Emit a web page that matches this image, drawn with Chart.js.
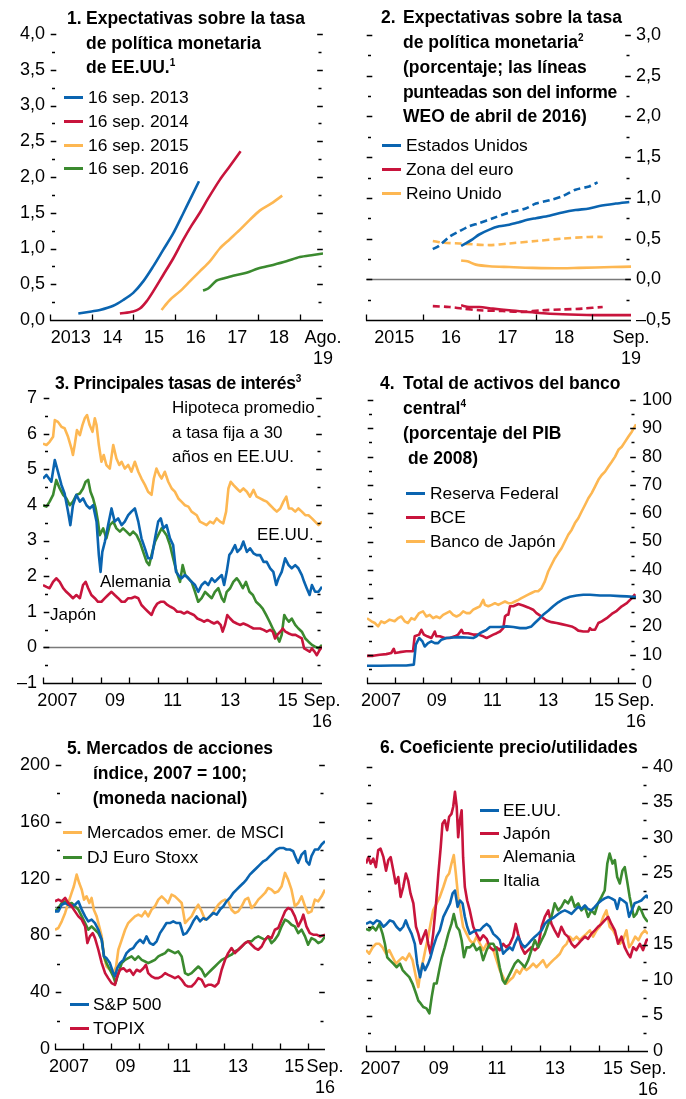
<!DOCTYPE html>
<html lang="es">
<head>
<meta charset="utf-8">
<title>Expectativas y mercados</title>
<script src="https://cdn.jsdelivr.net/npm/chart.js@4.4.1/dist/chart.umd.min.js"></script>
<style>
html,body{margin:0;padding:0;background:#fff;}
#page{position:relative;width:686px;height:1099px;overflow:hidden;font-family:"Liberation Sans",Arial,Helvetica,sans-serif;color:#000;}
#page canvas{position:absolute;}
.tx{position:absolute;white-space:nowrap;font-size:17px;line-height:24px;}
.b{font-weight:bold;font-size:17.5px;}
.c{text-align:center;width:320px;}
.lg{position:absolute;white-space:nowrap;font-size:17.4px;line-height:24px;display:flex;align-items:center;}
.sw{display:inline-block;width:19px;height:3px;}
sup{font-size:10px;line-height:0;vertical-align:7px;}
</style>
</head>
<body>
<div id="page"></div>
<script>
const FONT = '"Liberation Sans", Arial, Helvetica, sans-serif';
const BLUE = '#0a64b0', RED = '#c8143c', ORANGE = '#fdb752', GREEN = '#3b8a2f';

// ---------- Panel 1 ----------
const p1Names = ['16 sep. 2013', '16 sep. 2014', '16 sep. 2015', '16 sep. 2016'];
const p1Sep2013 = [[2013.68,0.09],[2014.00,0.12],[2014.20,0.14],[2014.52,0.20],[2014.76,0.28],[2015.00,0.38],[2015.24,0.54],[2015.48,0.75],[2015.72,0.98],[2015.96,1.21],[2016.20,1.49],[2016.36,1.68],[2016.58,1.94]];
const p1Sep2014 = [[2014.68,0.09],[2015.00,0.12],[2015.16,0.16],[2015.32,0.26],[2015.48,0.40],[2015.72,0.63],[2015.96,0.86],[2016.20,1.12],[2016.40,1.32],[2016.60,1.50],[2016.80,1.70],[2017.08,1.96],[2017.32,2.15],[2017.58,2.36]];
const p1Sep2015 = [[2015.68,0.14],[2015.88,0.28],[2016.12,0.40],[2016.36,0.54],[2016.60,0.68],[2016.84,0.82],[2017.08,1.00],[2017.32,1.13],[2017.56,1.26],[2017.80,1.40],[2018.04,1.53],[2018.32,1.63],[2018.58,1.74]];
const p1Sep2016 = [[2016.68,0.41],[2016.80,0.44],[2017.00,0.55],[2017.16,0.58],[2017.40,0.62],[2017.72,0.66],[2018.00,0.72],[2018.36,0.77],[2018.68,0.82],[2019.00,0.88],[2019.32,0.91],[2019.56,0.93]];
const p1XTickMarks = [2013, 2014, 2015, 2016, 2017, 2018, 2019];
const p1XLabelPos = [2013.5, 2014.5, 2015.5, 2016.5, 2017.5, 2018.5, 2019.56];
const p1XLabels = ['2013', '14', '15', '16', '17', '18', ['Ago.', '19']];
const p1YTicks = [0, 0.5, 1, 1.5, 2, 2.5, 3, 3.5, 4];

// ---------- Panel 2 ----------
const p2Names = ['Estados Unidos', 'Zona del euro', 'Reino Unido'];
const p2US = [[2016.68,0.41],[2016.76,0.44],[2016.88,0.49],[2017.00,0.55],[2017.18,0.61],[2017.35,0.65],[2017.53,0.67],[2017.70,0.70],[2017.85,0.73],[2018.00,0.75],[2018.24,0.78],[2018.47,0.82],[2018.70,0.85],[2018.94,0.87],[2019.12,0.90],[2019.41,0.93],[2019.65,0.95]];
const p2USWeo = [[2016.18,0.37],[2016.29,0.41],[2016.47,0.52],[2016.65,0.59],[2016.82,0.65],[2017.00,0.69],[2017.24,0.75],[2017.53,0.82],[2017.82,0.87],[2018.00,0.93],[2018.24,0.97],[2018.47,1.02],[2018.70,1.10],[2018.94,1.14],[2019.09,1.19]];
const p2Euro = [[2016.68,-0.32],[2016.82,-0.34],[2017.00,-0.34],[2017.24,-0.36],[2017.53,-0.38],[2018.00,-0.41],[2018.47,-0.43],[2019.06,-0.44],[2019.68,-0.44]];
const p2EuroWeo = [[2016.18,-0.33],[2016.47,-0.34],[2016.71,-0.36],[2017.00,-0.38],[2017.41,-0.39],[2017.76,-0.40],[2018.12,-0.38],[2018.47,-0.37],[2018.82,-0.36],[2019.18,-0.34]];
const p2UK = [[2016.68,0.23],[2016.79,0.22],[2016.94,0.18],[2017.18,0.16],[2017.53,0.15],[2017.94,0.14],[2018.47,0.135],[2018.76,0.14],[2019.35,0.15],[2019.68,0.155]];
const p2UKWeo = [[2016.18,0.47],[2016.35,0.45],[2016.65,0.44],[2017.18,0.42],[2017.53,0.44],[2018.00,0.47],[2018.47,0.50],[2018.94,0.52],[2019.18,0.52]];
const p2XTickMarks = [2015, 2016, 2017, 2018, 2019];
const p2XLabelPos = [2015.5, 2016.5, 2017.5, 2018.5, 2019.68];
const p2XLabels = ['2015', '16', '17', '18', ['Sep.', '19']];
const p2YTicks = [-0.5, 0, 0.5, 1, 1.5, 2, 2.5, 3];

// ---------- Panels 3-6 shared x axis ----------
const yearMarks = [2007, 2008, 2009, 2010, 2011, 2012, 2013, 2014, 2015, 2016];
const yearLabels = ['2007', '09', '11', '13', '15', ['Sep.', '16']];

// ---------- Panel 3 ----------
const p3Mortgage = [[2007.00,5.72],[2007.12,5.68],[2007.23,5.77],[2007.35,5.91],[2007.41,6.38],[2007.52,6.33],[2007.64,6.19],[2007.75,6.15],[2007.87,5.91],[2007.99,5.58],[2008.04,5.40],[2008.10,5.68],[2008.18,6.10],[2008.28,5.96],[2008.37,6.24],[2008.45,6.43],[2008.53,6.52],[2008.62,6.24],[2008.72,6.05],[2008.80,6.43],[2008.86,6.24],[2008.94,5.68],[2009.03,5.21],[2009.11,5.40],[2009.20,5.12],[2009.32,5.02],[2009.44,5.68],[2009.55,5.30],[2009.65,5.12],[2009.73,5.21],[2009.84,5.02],[2009.96,5.12],[2010.07,4.93],[2010.19,5.21],[2010.31,4.93],[2010.42,4.74],[2010.54,4.56],[2010.65,4.37],[2010.77,4.28],[2010.85,4.74],[2010.94,5.02],[2011.04,4.84],[2011.12,4.74],[2011.23,4.93],[2011.35,4.65],[2011.47,4.46],[2011.58,4.37],[2011.70,4.18],[2011.81,4.09],[2011.93,3.99],[2012.05,3.95],[2012.16,3.81],[2012.34,3.71],[2012.45,3.53],[2012.57,3.48],[2012.68,3.43],[2012.80,3.53],[2012.92,3.48],[2013.03,3.62],[2013.15,3.53],[2013.26,3.48],[2013.36,3.81],[2013.44,4.46],[2013.52,4.65],[2013.61,4.56],[2013.73,4.46],[2013.84,4.37],[2013.96,4.46],[2014.08,4.37],[2014.19,4.23],[2014.31,4.42],[2014.42,4.23],[2014.54,4.18],[2014.66,4.13],[2014.77,4.09],[2014.89,3.99],[2015.00,3.90],[2015.12,3.81],[2015.24,3.90],[2015.35,4.09],[2015.45,4.23],[2015.54,3.90],[2015.64,3.90],[2015.76,3.81],[2015.87,3.90],[2015.99,3.81],[2016.11,3.71],[2016.22,3.71],[2016.34,3.62],[2016.45,3.53],[2016.57,3.43],[2016.69,3.53]];
const p3US = [[2007.00,4.74],[2007.12,4.84],[2007.29,4.65],[2007.41,5.26],[2007.52,4.93],[2007.64,4.56],[2007.75,4.32],[2007.87,3.81],[2007.95,3.43],[2008.04,3.99],[2008.16,4.28],[2008.28,4.09],[2008.39,4.18],[2008.51,3.99],[2008.62,3.90],[2008.74,3.99],[2008.86,3.53],[2008.94,2.59],[2009.00,2.12],[2009.06,2.68],[2009.15,2.97],[2009.26,3.43],[2009.38,3.90],[2009.49,3.53],[2009.61,3.62],[2009.73,3.43],[2009.84,3.53],[2009.96,3.71],[2010.07,3.81],[2010.19,3.90],[2010.31,3.53],[2010.42,3.06],[2010.54,2.78],[2010.65,2.50],[2010.77,2.50],[2010.89,3.06],[2011.00,3.53],[2011.09,3.62],[2011.18,3.34],[2011.29,3.43],[2011.41,3.06],[2011.52,2.87],[2011.62,2.12],[2011.70,2.03],[2011.81,1.94],[2011.93,2.03],[2012.05,1.94],[2012.16,1.84],[2012.28,1.75],[2012.39,1.56],[2012.51,1.75],[2012.63,1.84],[2012.74,1.75],[2012.86,1.94],[2012.97,1.84],[2013.09,1.94],[2013.21,2.03],[2013.29,1.75],[2013.38,2.12],[2013.47,2.59],[2013.55,2.68],[2013.67,2.87],[2013.75,2.68],[2013.87,2.78],[2013.96,2.97],[2014.08,2.68],[2014.19,2.78],[2014.31,2.64],[2014.42,2.59],[2014.54,2.59],[2014.66,2.40],[2014.77,2.40],[2014.89,2.22],[2015.00,2.12],[2015.10,1.75],[2015.18,1.94],[2015.29,2.12],[2015.41,2.50],[2015.53,2.31],[2015.64,2.22],[2015.76,2.31],[2015.87,2.22],[2015.99,2.03],[2016.07,1.84],[2016.16,1.66],[2016.26,1.47],[2016.34,1.75],[2016.45,1.56],[2016.57,1.56],[2016.69,1.70]];
const p3Germany = [[2007.00,3.99],[2007.12,3.95],[2007.23,4.09],[2007.35,4.28],[2007.46,4.70],[2007.58,4.46],[2007.70,4.28],[2007.81,4.18],[2007.93,3.99],[2008.04,4.09],[2008.16,4.28],[2008.28,4.32],[2008.39,4.46],[2008.48,4.65],[2008.57,4.70],[2008.65,4.37],[2008.74,4.18],[2008.83,3.90],[2008.91,3.53],[2008.97,3.15],[2009.09,3.34],[2009.20,3.06],[2009.32,3.43],[2009.44,3.53],[2009.55,3.34],[2009.67,3.25],[2009.78,3.34],[2009.90,3.25],[2010.02,3.15],[2010.13,3.25],[2010.25,3.15],[2010.36,2.97],[2010.48,2.68],[2010.60,2.40],[2010.69,2.31],[2010.77,2.59],[2010.89,2.97],[2011.00,3.15],[2011.12,3.34],[2011.20,3.25],[2011.29,3.15],[2011.41,2.87],[2011.52,2.50],[2011.64,2.12],[2011.76,1.84],[2011.85,2.31],[2011.94,2.03],[2012.05,1.94],[2012.16,1.84],[2012.28,1.56],[2012.39,1.28],[2012.51,1.38],[2012.63,1.56],[2012.74,1.47],[2012.86,1.38],[2012.97,1.56],[2013.09,1.66],[2013.21,1.38],[2013.29,1.28],[2013.38,1.56],[2013.50,1.66],[2013.61,1.84],[2013.73,1.94],[2013.82,1.84],[2013.94,1.66],[2014.05,1.84],[2014.17,1.56],[2014.29,1.47],[2014.40,1.28],[2014.52,1.19],[2014.63,1.09],[2014.75,0.91],[2014.87,0.72],[2014.98,0.53],[2015.10,0.35],[2015.21,0.16],[2015.29,0.35],[2015.38,0.91],[2015.45,0.81],[2015.54,0.72],[2015.64,0.81],[2015.76,0.63],[2015.87,0.53],[2015.99,0.44],[2016.11,0.25],[2016.22,0.16],[2016.34,0.07],[2016.45,0.02],[2016.57,-0.03],[2016.69,0.07]];
const p3Japan = [[2007.00,1.75],[2007.12,1.70],[2007.23,1.66],[2007.35,1.84],[2007.46,1.94],[2007.58,1.84],[2007.70,1.66],[2007.81,1.56],[2007.93,1.47],[2008.04,1.38],[2008.16,1.47],[2008.28,1.38],[2008.39,1.75],[2008.48,1.84],[2008.57,1.66],[2008.68,1.47],[2008.80,1.38],[2008.91,1.28],[2009.03,1.28],[2009.15,1.38],[2009.26,1.47],[2009.38,1.56],[2009.49,1.47],[2009.61,1.38],[2009.73,1.28],[2009.84,1.28],[2009.96,1.38],[2010.07,1.38],[2010.19,1.42],[2010.31,1.38],[2010.42,1.19],[2010.54,1.09],[2010.65,1.00],[2010.77,0.91],[2010.86,1.09],[2010.97,1.23],[2011.08,1.28],[2011.20,1.28],[2011.32,1.19],[2011.43,1.14],[2011.55,1.09],[2011.66,1.00],[2011.78,1.00],[2011.90,0.95],[2012.01,1.00],[2012.13,0.95],[2012.24,0.91],[2012.36,0.81],[2012.48,0.77],[2012.59,0.72],[2012.71,0.77],[2012.82,0.72],[2012.94,0.67],[2013.06,0.72],[2013.17,0.63],[2013.24,0.44],[2013.32,0.63],[2013.40,0.91],[2013.50,0.81],[2013.61,0.72],[2013.73,0.67],[2013.84,0.63],[2013.96,0.67],[2014.08,0.63],[2014.19,0.58],[2014.31,0.53],[2014.42,0.53],[2014.54,0.53],[2014.66,0.49],[2014.77,0.44],[2014.89,0.49],[2014.98,0.44],[2015.06,0.25],[2015.14,0.35],[2015.24,0.44],[2015.33,0.53],[2015.42,0.44],[2015.54,0.39],[2015.65,0.35],[2015.77,0.35],[2015.88,0.30],[2015.99,0.25],[2016.07,-0.03],[2016.16,-0.07],[2016.26,-0.12],[2016.34,-0.03],[2016.43,-0.12],[2016.51,-0.22],[2016.61,-0.07],[2016.69,0.02]];
const p3YTicks = [-1, 0, 1, 2, 3, 4, 5, 6, 7];

// ---------- Panel 4 ----------
const p4Names = ['Reserva Federal', 'BCE', 'Banco de Japón'];
const p4Fed = [[2007.00,6.1],[2007.46,6.1],[2007.93,6.2],[2008.41,6.2],[2008.68,6.5],[2008.75,13.5],[2008.87,15.9],[2008.99,14.7],[2009.07,12.9],[2009.19,14.1],[2009.31,14.7],[2009.43,14.1],[2009.55,14.1],[2009.67,15.3],[2009.85,15.9],[2010.09,16.1],[2010.33,16.2],[2010.57,16.1],[2010.81,15.9],[2010.93,16.5],[2011.05,17.6],[2011.17,18.2],[2011.29,18.8],[2011.41,19.8],[2011.77,19.8],[2012.01,20.0],[2012.25,19.8],[2012.49,19.4],[2012.72,19.4],[2012.90,20.0],[2013.02,21.2],[2013.20,22.9],[2013.32,24.1],[2013.50,25.5],[2013.68,27.1],[2013.86,28.5],[2014.04,29.6],[2014.28,30.5],[2014.52,30.9],[2014.76,31.2],[2015.00,31.2],[2015.36,30.9],[2015.72,30.9],[2016.08,30.7],[2016.32,30.6],[2016.65,30.4]];
const p4ECB = [[2007.00,9.6],[2007.22,9.6],[2007.46,10.0],[2007.69,10.2],[2007.87,10.6],[2007.96,12.1],[2008.01,10.6],[2008.17,10.9],[2008.41,11.2],[2008.65,11.2],[2008.71,16.5],[2008.87,17.1],[2008.95,18.8],[2009.04,17.1],[2009.16,16.5],[2009.31,15.9],[2009.43,18.2],[2009.49,16.5],[2009.61,16.5],[2009.79,15.9],[2009.97,15.9],[2010.15,16.5],[2010.27,17.1],[2010.39,18.8],[2010.45,17.6],[2010.63,17.6],[2010.81,17.1],[2010.99,17.1],[2011.17,16.5],[2011.29,15.9],[2011.41,16.5],[2011.53,17.1],[2011.65,17.6],[2011.77,18.2],[2011.89,19.4],[2011.95,23.5],[2012.01,24.1],[2012.07,24.1],[2012.13,27.1],[2012.25,27.1],[2012.43,27.9],[2012.60,27.4],[2012.78,26.7],[2012.96,25.9],[2013.08,24.7],[2013.20,23.9],[2013.32,22.9],[2013.44,22.1],[2013.62,21.5],[2013.80,21.2],[2013.98,20.8],[2014.16,20.4],[2014.34,20.0],[2014.46,19.4],[2014.58,18.5],[2014.76,18.2],[2014.94,18.2],[2015.00,19.4],[2015.06,18.8],[2015.18,18.8],[2015.30,21.2],[2015.42,21.8],[2015.60,22.9],[2015.78,24.4],[2015.96,25.5],[2016.14,27.1],[2016.32,28.2],[2016.50,30.0],[2016.62,31.4]];
const p4BoJ = [[2007.00,22.9],[2007.16,21.8],[2007.28,21.2],[2007.40,20.0],[2007.51,21.8],[2007.63,21.2],[2007.81,22.4],[2007.99,21.8],[2008.11,22.9],[2008.23,23.5],[2008.35,21.8],[2008.47,21.2],[2008.59,22.9],[2008.71,22.4],[2008.87,24.7],[2009.01,25.3],[2009.13,23.5],[2009.25,24.1],[2009.37,22.9],[2009.49,23.5],[2009.61,22.9],[2009.73,24.1],[2009.85,24.7],[2009.97,25.3],[2010.09,24.1],[2010.21,23.5],[2010.33,24.1],[2010.45,25.3],[2010.57,24.7],[2010.69,24.7],[2010.81,25.9],[2010.93,26.5],[2011.05,27.1],[2011.17,29.4],[2011.23,27.6],[2011.35,27.1],[2011.47,27.6],[2011.59,28.2],[2011.71,27.6],[2011.83,28.2],[2011.95,28.8],[2012.07,28.2],[2012.19,28.2],[2012.31,28.8],[2012.43,29.4],[2012.54,30.0],[2012.66,30.6],[2012.78,31.2],[2012.90,31.8],[2013.02,32.4],[2013.14,32.4],[2013.26,33.5],[2013.38,35.9],[2013.50,39.4],[2013.62,41.8],[2013.74,44.1],[2013.86,45.9],[2013.98,47.6],[2014.10,50.0],[2014.22,52.4],[2014.34,54.1],[2014.46,56.5],[2014.58,58.2],[2014.70,60.6],[2014.82,62.9],[2014.94,65.3],[2015.06,67.1],[2015.18,69.4],[2015.30,71.8],[2015.42,73.5],[2015.54,74.7],[2015.66,76.5],[2015.78,78.2],[2015.90,80.0],[2016.02,82.4],[2016.14,83.5],[2016.26,85.3],[2016.38,87.1],[2016.50,88.8],[2016.65,91.4]];
const p4YTicks = [0, 10, 20, 30, 40, 50, 60, 70, 80, 90, 100];

// ---------- Panel 5 ----------
const p5Names = ['Mercados emer. de MSCI', 'DJ Euro Stoxx', 'S&P 500', 'TOPIX'];
const p5MSCI = [[2007.00,84.0],[2007.12,85.2],[2007.24,89.9],[2007.36,95.8],[2007.47,102.8],[2007.59,109.9],[2007.67,114.6],[2007.77,122.8],[2007.86,116.9],[2007.95,112.2],[2008.03,105.2],[2008.12,107.5],[2008.22,102.8],[2008.30,106.4],[2008.38,98.1],[2008.48,93.4],[2008.57,86.4],[2008.66,79.3],[2008.74,65.2],[2008.83,58.1],[2008.95,55.8],[2009.07,53.4],[2009.17,58.1],[2009.25,69.9],[2009.37,76.9],[2009.49,84.0],[2009.60,88.7],[2009.72,91.1],[2009.84,93.4],[2009.96,94.6],[2010.08,93.4],[2010.20,96.9],[2010.31,93.4],[2010.43,98.1],[2010.55,100.5],[2010.67,105.2],[2010.79,107.5],[2010.91,105.2],[2011.02,102.8],[2011.14,108.7],[2011.26,107.5],[2011.38,105.2],[2011.50,102.8],[2011.62,88.7],[2011.73,91.1],[2011.85,93.4],[2011.97,98.1],[2012.09,101.6],[2012.21,96.9],[2012.33,91.1],[2012.44,92.2],[2012.56,94.6],[2012.68,98.1],[2012.80,101.6],[2012.92,104.0],[2013.04,105.2],[2013.15,104.0],[2013.27,98.1],[2013.39,95.8],[2013.51,96.9],[2013.63,100.5],[2013.75,105.2],[2013.86,106.4],[2013.98,99.3],[2014.10,101.6],[2014.22,105.2],[2014.34,107.5],[2014.46,109.9],[2014.57,113.4],[2014.69,112.2],[2014.81,109.9],[2014.93,111.1],[2015.05,114.6],[2015.17,124.0],[2015.28,119.3],[2015.40,112.2],[2015.52,100.5],[2015.64,102.8],[2015.76,107.5],[2015.88,100.5],[2015.99,95.8],[2016.11,96.9],[2016.23,105.2],[2016.35,104.0],[2016.47,107.5],[2016.59,112.2]];
const p5Stoxx = [[2007.00,96.9],[2007.12,99.3],[2007.24,102.8],[2007.36,104.0],[2007.47,101.6],[2007.59,102.8],[2007.71,100.5],[2007.83,98.1],[2007.95,93.4],[2008.07,88.7],[2008.18,84.0],[2008.30,86.4],[2008.42,84.0],[2008.54,81.6],[2008.66,76.9],[2008.74,65.2],[2008.83,60.5],[2008.95,55.8],[2009.07,51.1],[2009.15,46.4],[2009.25,53.4],[2009.37,60.5],[2009.49,62.8],[2009.60,64.0],[2009.72,65.2],[2009.84,62.8],[2009.96,65.2],[2010.08,62.8],[2010.20,61.6],[2010.31,60.5],[2010.43,61.6],[2010.55,62.8],[2010.67,65.2],[2010.79,66.4],[2010.91,67.5],[2011.02,69.9],[2011.14,68.7],[2011.26,67.5],[2011.38,68.7],[2011.50,65.2],[2011.62,53.4],[2011.73,52.2],[2011.85,53.4],[2011.97,55.8],[2012.09,58.1],[2012.21,55.8],[2012.33,51.1],[2012.44,53.4],[2012.56,55.8],[2012.68,58.1],[2012.80,60.5],[2012.92,62.8],[2013.04,64.0],[2013.15,65.2],[2013.27,66.4],[2013.39,68.7],[2013.51,69.9],[2013.63,72.2],[2013.75,74.6],[2013.86,75.8],[2013.98,75.8],[2014.10,78.1],[2014.22,79.3],[2014.34,78.1],[2014.46,76.9],[2014.57,79.3],[2014.69,74.6],[2014.81,76.9],[2014.93,80.5],[2015.05,86.4],[2015.17,91.1],[2015.28,89.9],[2015.40,87.5],[2015.52,86.4],[2015.64,81.6],[2015.76,84.0],[2015.88,79.3],[2015.99,73.4],[2016.11,78.1],[2016.23,76.9],[2016.35,74.6],[2016.47,75.8],[2016.59,79.3]];
const p5SP500 = [[2007.00,96.9],[2007.12,96.9],[2007.24,101.6],[2007.36,102.8],[2007.47,101.6],[2007.59,100.5],[2007.71,101.6],[2007.83,104.0],[2007.95,98.1],[2008.07,93.4],[2008.18,89.9],[2008.30,91.1],[2008.42,88.7],[2008.54,84.0],[2008.66,76.9],[2008.74,65.2],[2008.83,64.0],[2008.95,60.5],[2009.07,53.4],[2009.13,51.1],[2009.21,56.9],[2009.31,60.5],[2009.43,62.8],[2009.54,67.5],[2009.66,69.9],[2009.78,71.1],[2009.90,74.6],[2010.02,76.9],[2010.14,74.6],[2010.25,79.3],[2010.37,74.6],[2010.49,73.4],[2010.61,75.8],[2010.73,81.6],[2010.85,85.2],[2010.96,88.7],[2011.08,88.7],[2011.20,89.9],[2011.32,88.7],[2011.44,88.7],[2011.56,80.5],[2011.67,81.6],[2011.79,85.2],[2011.91,89.9],[2012.03,93.4],[2012.15,89.9],[2012.27,92.2],[2012.38,91.1],[2012.50,93.4],[2012.62,95.8],[2012.74,94.6],[2012.86,98.1],[2012.98,100.5],[2013.09,104.0],[2013.21,106.4],[2013.33,109.9],[2013.45,112.2],[2013.57,114.6],[2013.69,116.9],[2013.80,119.3],[2013.92,122.8],[2014.04,125.2],[2014.16,127.5],[2014.28,129.9],[2014.40,132.2],[2014.51,133.4],[2014.63,135.8],[2014.75,138.1],[2014.87,140.5],[2014.99,141.6],[2015.11,141.6],[2015.22,140.5],[2015.34,140.5],[2015.46,139.3],[2015.58,133.4],[2015.64,131.1],[2015.76,136.9],[2015.88,139.3],[2015.93,132.2],[2016.03,129.9],[2016.11,135.8],[2016.23,140.5],[2016.35,140.5],[2016.47,144.0],[2016.59,146.4]];
const p5Topix = [[2007.00,104.0],[2007.12,105.2],[2007.24,104.0],[2007.36,106.4],[2007.47,102.8],[2007.59,100.5],[2007.71,96.9],[2007.83,93.4],[2007.95,91.1],[2008.07,86.4],[2008.15,74.6],[2008.24,79.3],[2008.34,81.6],[2008.42,78.1],[2008.54,69.9],[2008.66,60.5],[2008.78,53.4],[2008.89,49.9],[2009.01,46.4],[2009.13,45.2],[2009.21,51.1],[2009.31,55.8],[2009.43,56.9],[2009.54,54.6],[2009.66,55.8],[2009.78,52.2],[2009.90,55.8],[2010.02,54.6],[2010.14,56.9],[2010.23,59.3],[2010.31,53.4],[2010.43,51.1],[2010.55,49.9],[2010.67,49.9],[2010.79,51.1],[2010.91,53.4],[2011.02,52.2],[2011.14,51.1],[2011.26,49.9],[2011.38,51.1],[2011.50,48.7],[2011.62,45.2],[2011.73,44.0],[2011.85,44.0],[2011.97,46.4],[2012.09,49.9],[2012.21,48.7],[2012.33,44.0],[2012.44,45.2],[2012.56,45.2],[2012.68,44.0],[2012.80,46.4],[2012.92,55.8],[2013.04,62.8],[2013.15,67.5],[2013.27,71.1],[2013.39,67.5],[2013.51,69.9],[2013.63,72.2],[2013.75,74.6],[2013.86,75.8],[2013.98,73.4],[2014.10,71.1],[2014.22,69.9],[2014.34,72.2],[2014.46,76.9],[2014.57,79.3],[2014.69,78.1],[2014.81,84.0],[2014.93,85.2],[2015.05,91.1],[2015.17,96.9],[2015.28,99.3],[2015.40,98.1],[2015.52,93.4],[2015.64,86.4],[2015.76,91.1],[2015.82,94.6],[2015.93,86.4],[2016.05,81.6],[2016.17,80.5],[2016.29,80.5],[2016.41,79.3],[2016.59,80.5]];
const p5YTicks = [0, 40, 80, 120, 160, 200];

// ---------- Panel 6 ----------
const p6Names = ['EE.UU.', 'Japón', 'Alemania', 'Italia'];
const p6US = [[2007.00,17.9],[2007.14,18.2],[2007.25,17.9],[2007.37,18.4],[2007.48,18.2],[2007.60,17.5],[2007.71,17.9],[2007.82,18.4],[2007.94,18.2],[2008.05,17.5],[2008.17,17.0],[2008.28,17.5],[2008.37,18.4],[2008.45,17.5],[2008.57,16.5],[2008.68,15.1],[2008.76,12.3],[2008.86,10.4],[2008.95,12.3],[2009.03,11.4],[2009.14,12.3],[2009.22,13.2],[2009.31,14.6],[2009.43,16.1],[2009.54,17.0],[2009.66,18.9],[2009.77,19.8],[2009.89,20.8],[2009.98,22.2],[2010.06,22.6],[2010.15,20.3],[2010.23,21.2],[2010.32,20.8],[2010.40,18.9],[2010.48,17.5],[2010.57,16.5],[2010.69,16.8],[2010.80,17.0],[2010.92,17.0],[2011.03,17.5],[2011.15,17.9],[2011.26,17.5],[2011.38,16.5],[2011.49,16.1],[2011.60,15.6],[2011.72,13.7],[2011.83,14.2],[2011.95,14.6],[2012.04,14.2],[2012.12,15.1],[2012.23,16.1],[2012.35,15.1],[2012.46,14.6],[2012.58,15.1],[2012.69,15.6],[2012.81,16.1],[2012.92,16.5],[2013.04,17.0],[2013.15,17.9],[2013.27,18.4],[2013.38,18.6],[2013.49,18.9],[2013.61,19.3],[2013.72,19.6],[2013.84,19.8],[2013.95,19.6],[2014.07,19.3],[2014.18,19.8],[2014.30,20.3],[2014.41,20.0],[2014.53,20.5],[2014.64,20.0],[2014.75,19.8],[2014.87,20.3],[2014.98,20.8],[2015.10,21.2],[2015.21,21.5],[2015.33,21.7],[2015.44,21.5],[2015.56,21.2],[2015.64,20.0],[2015.73,21.5],[2015.84,21.2],[2015.96,20.8],[2016.05,18.9],[2016.14,19.8],[2016.24,20.8],[2016.36,21.0],[2016.47,21.2],[2016.59,21.7],[2016.65,21.9],[2016.70,21.5]];
const p6Japan = [[2007.00,26.4],[2007.08,27.3],[2007.16,26.4],[2007.25,27.1],[2007.34,25.9],[2007.42,28.3],[2007.50,28.5],[2007.60,27.3],[2007.69,25.4],[2007.77,26.9],[2007.85,27.3],[2007.94,25.4],[2008.02,23.6],[2008.11,24.5],[2008.19,21.7],[2008.28,23.1],[2008.37,25.0],[2008.45,24.0],[2008.53,22.2],[2008.63,20.8],[2008.72,17.5],[2008.80,16.5],[2008.88,15.1],[2008.97,16.1],[2009.06,17.0],[2009.14,15.1],[2009.22,13.7],[2009.31,16.5],[2009.41,20.8],[2009.49,25.0],[2009.57,28.7],[2009.63,32.0],[2009.71,32.5],[2009.79,31.1],[2009.86,33.0],[2009.94,33.4],[2010.00,34.4],[2010.06,36.5],[2010.12,34.4],[2010.17,30.1],[2010.23,32.5],[2010.29,33.9],[2010.34,27.3],[2010.40,23.1],[2010.48,21.2],[2010.57,19.8],[2010.69,17.5],[2010.80,16.5],[2010.92,15.6],[2011.03,16.3],[2011.15,15.8],[2011.26,14.6],[2011.38,14.2],[2011.49,14.6],[2011.60,14.2],[2011.72,15.1],[2011.83,14.6],[2011.95,15.1],[2012.06,16.1],[2012.15,17.9],[2012.23,16.5],[2012.35,14.6],[2012.46,13.7],[2012.58,14.2],[2012.69,14.6],[2012.81,14.2],[2012.92,14.6],[2013.04,17.5],[2013.15,18.9],[2013.27,19.8],[2013.38,17.9],[2013.49,17.0],[2013.61,16.1],[2013.72,17.5],[2013.84,16.5],[2013.95,16.1],[2014.07,15.1],[2014.18,14.6],[2014.30,15.1],[2014.41,15.6],[2014.53,16.1],[2014.64,15.8],[2014.75,16.5],[2014.87,17.0],[2014.98,17.5],[2015.10,17.9],[2015.21,18.4],[2015.33,18.9],[2015.44,17.9],[2015.56,17.0],[2015.67,15.1],[2015.79,16.1],[2015.90,14.6],[2016.01,13.7],[2016.09,13.2],[2016.19,14.6],[2016.30,14.2],[2016.42,15.1],[2016.53,14.2],[2016.65,15.6],[2016.70,15.8]];
const p6Germany = [[2007.00,14.2],[2007.11,13.7],[2007.23,14.6],[2007.34,15.1],[2007.46,15.1],[2007.57,14.6],[2007.69,13.7],[2007.80,14.2],[2007.92,13.2],[2008.03,12.3],[2008.15,12.8],[2008.26,13.2],[2008.37,12.8],[2008.49,13.7],[2008.60,12.8],[2008.72,10.4],[2008.80,9.0],[2008.88,11.4],[2008.97,12.8],[2009.06,14.6],[2009.14,16.1],[2009.22,17.9],[2009.31,19.8],[2009.43,20.8],[2009.54,21.7],[2009.66,23.1],[2009.77,24.5],[2009.86,25.0],[2009.94,26.4],[2010.02,27.6],[2010.09,25.0],[2010.17,21.7],[2010.25,19.8],[2010.34,17.5],[2010.46,16.5],[2010.57,15.6],[2010.69,15.1],[2010.80,16.1],[2010.92,15.1],[2011.03,14.2],[2011.15,15.1],[2011.26,14.6],[2011.38,14.2],[2011.49,12.8],[2011.60,11.4],[2011.72,10.4],[2011.83,9.5],[2011.95,10.0],[2012.06,10.4],[2012.18,11.4],[2012.29,10.9],[2012.41,11.8],[2012.52,11.4],[2012.64,11.8],[2012.75,12.3],[2012.86,11.8],[2012.98,12.3],[2013.09,12.8],[2013.21,11.8],[2013.32,12.3],[2013.44,12.8],[2013.55,13.2],[2013.67,13.7],[2013.78,14.6],[2013.90,15.1],[2014.01,16.1],[2014.12,15.6],[2014.24,16.1],[2014.35,15.6],[2014.47,16.1],[2014.58,16.5],[2014.70,17.0],[2014.81,16.1],[2014.93,17.0],[2015.04,17.5],[2015.16,18.9],[2015.27,19.8],[2015.38,17.5],[2015.50,17.0],[2015.61,16.1],[2015.73,15.1],[2015.84,15.6],[2015.96,17.0],[2016.05,14.6],[2016.14,15.1],[2016.26,16.1],[2016.37,15.6],[2016.48,16.5],[2016.59,17.0],[2016.70,16.5]];
const p6Italy = [[2007.00,17.2],[2007.11,17.0],[2007.23,17.5],[2007.34,17.0],[2007.46,17.9],[2007.57,16.5],[2007.65,15.1],[2007.73,13.2],[2007.82,12.8],[2007.94,12.3],[2008.05,11.8],[2008.17,12.3],[2008.26,11.4],[2008.37,10.9],[2008.49,10.4],[2008.60,9.5],[2008.72,8.1],[2008.80,7.1],[2008.88,6.7],[2008.97,6.2],[2009.08,6.0],[2009.18,5.3],[2009.26,7.6],[2009.34,9.5],[2009.43,9.5],[2009.52,11.4],[2009.61,13.2],[2009.71,14.6],[2009.83,16.5],[2009.94,17.9],[2010.02,19.3],[2010.12,17.5],[2010.21,17.0],[2010.29,15.6],[2010.37,13.2],[2010.46,14.6],[2010.57,14.6],[2010.69,15.1],[2010.80,14.2],[2010.92,14.6],[2011.03,12.8],[2011.15,14.2],[2011.26,15.1],[2011.38,15.1],[2011.49,14.2],[2011.60,11.8],[2011.70,10.0],[2011.78,9.5],[2011.89,10.4],[2012.01,11.4],[2012.12,12.3],[2012.23,12.8],[2012.35,12.3],[2012.46,11.8],[2012.58,12.8],[2012.69,14.2],[2012.81,15.6],[2012.92,14.6],[2013.04,15.6],[2013.15,16.5],[2013.27,17.9],[2013.38,18.9],[2013.49,20.8],[2013.61,19.8],[2013.72,20.3],[2013.84,21.2],[2013.95,20.8],[2014.07,21.7],[2014.18,20.3],[2014.30,20.8],[2014.41,19.8],[2014.53,20.3],[2014.64,18.9],[2014.75,19.8],[2014.87,19.3],[2014.98,20.8],[2015.10,21.7],[2015.21,22.6],[2015.30,26.4],[2015.38,27.8],[2015.48,26.4],[2015.56,26.9],[2015.64,24.5],[2015.73,23.6],[2015.82,25.4],[2015.90,25.9],[2015.98,24.0],[2016.07,21.7],[2016.14,20.3],[2016.21,18.9],[2016.30,19.3],[2016.39,20.3],[2016.47,19.8],[2016.56,18.9],[2016.65,18.4],[2016.70,18.2]];
const p6YTicks = [0, 5, 10, 15, 20, 25, 30, 35, 40];

// ---------- helpers ----------
const page = document.getElementById('page');
const fmtComma = v => (v < 0 ? '–' : '') + Math.abs(v).toFixed(1).replace('.', ',');
const fmtInt = v => (v < 0 ? '–' : '') + Math.abs(v);

function makeMarks(p) {
  return {
    id: 'axisMarks',
    beforeDatasetsDraw(chart) {
      if (p.refLine == null) return;
      const {ctx, chartArea: a, scales: {y}} = chart;
      const py = Math.round(y.getPixelForValue(p.refLine)) + 0.5;
      ctx.save();
      ctx.strokeStyle = '#7a7a7a'; ctx.lineWidth = 1.3;
      ctx.beginPath(); ctx.moveTo(a.left, py); ctx.lineTo(a.right, py); ctx.stroke();
      ctx.restore();
    },
    afterDatasetsDraw(chart) {
      const {ctx, chartArea: a, scales: {x, y}} = chart;
      ctx.save();
      ctx.strokeStyle = '#000'; ctx.lineWidth = 1.3;
      ctx.beginPath();
      const by = Math.round(a.bottom) + 0.5;
      ctx.moveTo(a.left, by); ctx.lineTo(a.right, by);
      p.xMarks.forEach(v => {
        const px = Math.round(x.getPixelForValue(v)) + 0.5;
        ctx.moveTo(px, by); ctx.lineTo(px, by - 6);
      });
      const n = Math.round((p.yRange[1] - p.yRange[0]) / p.yMinor);
      for (let i = 1; i <= n; i++) {
        const v = p.yRange[0] + i * p.yMinor;
        const major = p.yTicks.some(m => Math.abs(m - v) < 1e-6);
        const h = major ? 2.8 : 1.5;
        const py = Math.round(y.getPixelForValue(v)) + 0.5;
        const cl = a.left + 3.5, cr = a.right - 3;
        ctx.moveTo(cl - h, py); ctx.lineTo(cl + h, py);
        ctx.moveTo(cr - h, py); ctx.lineTo(cr + h, py);
      }
      ctx.stroke();
      ctx.restore();
    }
  };
}

function panel(p) {
  const cv = document.createElement('canvas');
  cv.width = p.box[2]; cv.height = p.box[3];
  cv.style.left = p.box[0] + 'px'; cv.style.top = p.box[1] + 'px';
  cv.style.width = p.box[2] + 'px'; cv.style.height = p.box[3] + 'px';
  page.appendChild(cv);
  const sets = p.series.map((s, i) => ({
    label: s.name, data: s.data, borderColor: s.color, backgroundColor: s.color,
    borderWidth: s.w || 2.6, borderDash: s.dash || [], pointRadius: 0, pointHoverRadius: 0,
    tension: s.t || 0, fill: false, order: i, borderJoinStyle: 'round', borderCapStyle: 'butt'
  }));
  return new Chart(cv, {
    type: 'line',
    data: {datasets: sets},
    options: {
      responsive: false, maintainAspectRatio: false, animation: false, devicePixelRatio: 1, events: [],
      layout: {padding: p.pad, autoPadding: false},
      plugins: {legend: {display: false}, tooltip: {enabled: false}},
      scales: {
        x: {type: 'linear', bounds: 'data', min: p.xRange[0], max: p.xRange[1], offset: false,
            grid: {display: false, drawTicks: false}, border: {display: false},
            afterBuildTicks: s => { s.ticks = p.xLabelPos.map(v => ({value: v})); },
            afterFit: s => { s.height = p.xH; },
            ticks: {autoSkip: false, maxRotation: 0, minRotation: 0, padding: 7, color: '#000',
                    font: {family: FONT, size: 18, lineHeight: 1.2}, callback: (v, i) => p.xLabels[i]}},
        y: {type: 'linear', position: p.yPos, bounds: 'data', min: p.yRange[0], max: p.yRange[1],
            grid: {display: false, drawTicks: false}, border: {display: false},
            afterBuildTicks: s => { s.ticks = p.yTicks.map(v => ({value: v})); },
            afterFit: s => { s.width = p.yW; },
            ticks: {padding: p.yPad, color: '#000', font: {family: FONT, size: 18}, callback: v => p.yFmt(v)}}
      }
    },
    plugins: [makeMarks(p)]
  });
}

function text(x, yc, html, cls) {
  const d = document.createElement('div');
  d.className = 'tx' + (cls ? ' ' + cls : '');
  d.style.left = x + 'px'; d.style.top = (yc - 12) + 'px';
  d.innerHTML = html;
  page.appendChild(d);
}
function legend(sx, tx, yc, color, label) {
  const d = document.createElement('div');
  d.className = 'lg';
  d.style.left = sx + 'px'; d.style.top = (yc - 12) + 'px';
  const sw = document.createElement('span');
  sw.className = 'sw'; sw.style.background = color; sw.style.marginRight = (tx - sx - 19) + 'px';
  const t = document.createElement('span'); t.textContent = label;
  d.appendChild(sw); d.appendChild(t);
  page.appendChild(d);
}

// ---------- build panels ----------
panel({box: [0, 0, 370, 376], pad: {left: 0, right: 47, top: 34, bottom: 0}, yW: 50, xH: 56, yPos: 'left', yPad: 5,
  xRange: [2013, 2019.56], yRange: [0, 4], yTicks: p1YTicks, yMinor: 0.25, yFmt: fmtComma,
  xMarks: p1XTickMarks, xLabelPos: p1XLabelPos, xLabels: p1XLabels,
  series: [
    {name: p1Names[0], data: p1Sep2013, color: BLUE, t: 0.3},
    {name: p1Names[1], data: p1Sep2014, color: RED, t: 0.3},
    {name: p1Names[2], data: p1Sep2015, color: ORANGE, t: 0.3},
    {name: p1Names[3], data: p1Sep2016, color: GREEN, t: 0.3}]});

panel({box: [343, 0, 343, 376], pad: {left: 23, right: 0, top: 35, bottom: 0}, yW: 55, xH: 56, yPos: 'right', yPad: 5,
  xRange: [2015, 2019.68], yRange: [-0.5, 3], yTicks: p2YTicks, yMinor: 0.25, yFmt: fmtComma, refLine: 0,
  xMarks: p2XTickMarks, xLabelPos: p2XLabelPos, xLabels: p2XLabels,
  series: [
    {name: p2Names[0], data: p2US, color: BLUE, t: 0.3},
    {name: p2Names[0] + ' (WEO)', data: p2USWeo, color: BLUE, dash: [7, 4], t: 0.3},
    {name: p2Names[1], data: p2Euro, color: RED, t: 0.3},
    {name: p2Names[1] + ' (WEO)', data: p2EuroWeo, color: RED, dash: [7, 4], t: 0.3},
    {name: p2Names[2], data: p2UK, color: ORANGE, t: 0.3},
    {name: p2Names[2] + ' (WEO)', data: p2UKWeo, color: ORANGE, dash: [7, 4], t: 0.3}]});

panel({box: [0, 370, 370, 366], pad: {left: 0, right: 48, top: 28, bottom: 0}, yW: 43, xH: 53, yPos: 'left', yPad: 6,
  xRange: [2007, 2016.69], yRange: [-1, 7], yTicks: p3YTicks, yMinor: 0.5, yFmt: fmtInt, refLine: 0,
  xMarks: yearMarks, xLabelPos: [2007.5, 2009.5, 2011.5, 2013.5, 2015.5, 2016.69], xLabels: yearLabels,
  series: [
    {name: 'Japón', data: p3Japan, color: RED},
    {name: 'EE.UU.', data: p3US, color: BLUE},
    {name: 'Alemania', data: p3Germany, color: GREEN},
    {name: 'Hipoteca promedio a tasa fija a 30 años en EE.UU.', data: p3Mortgage, color: ORANGE}]});

panel({box: [343, 370, 343, 366], pad: {left: 24, right: 0, top: 30, bottom: 0}, yW: 50, xH: 53, yPos: 'right', yPad: 6,
  xRange: [2007, 2016.65], yRange: [0, 100], yTicks: p4YTicks, yMinor: 5, yFmt: fmtInt,
  xMarks: yearMarks, xLabelPos: [2007.5, 2009.5, 2011.5, 2013.5, 2015.5, 2016.65], xLabels: yearLabels,
  series: [
    {name: p4Names[0], data: p4Fed, color: BLUE},
    {name: p4Names[1], data: p4ECB, color: RED},
    {name: p4Names[2], data: p4BoJ, color: ORANGE}]});

panel({box: [0, 732, 370, 367], pad: {left: 0, right: 45, top: 33, bottom: 0}, yW: 55, xH: 50, yPos: 'left', yPad: 5,
  xRange: [2007, 2016.59], yRange: [0, 200], yTicks: p5YTicks, yMinor: 20, yFmt: fmtInt, refLine: 100,
  xMarks: yearMarks, xLabelPos: [2007.5, 2009.5, 2011.5, 2013.5, 2015.5, 2016.59], xLabels: yearLabels,
  series: [
    {name: p5Names[3], data: p5Topix, color: RED},
    {name: p5Names[2], data: p5SP500, color: BLUE},
    {name: p5Names[1], data: p5Stoxx, color: GREEN},
    {name: p5Names[0], data: p5MSCI, color: ORANGE}]});

panel({box: [343, 732, 343, 367], pad: {left: 23, right: 0, top: 35, bottom: 0}, yW: 38, xH: 48, yPos: 'right', yPad: 5,
  xRange: [2007, 2016.70], yRange: [0, 40], yTicks: p6YTicks, yMinor: 2.5, yFmt: fmtInt,
  xMarks: yearMarks, xLabelPos: [2007.5, 2009.5, 2011.5, 2013.5, 2015.5, 2016.70], xLabels: yearLabels,
  series: [
    {name: p6Names[0], data: p6US, color: BLUE},
    {name: p6Names[3], data: p6Italy, color: GREEN},
    {name: p6Names[1], data: p6Japan, color: RED},
    {name: p6Names[2], data: p6Germany, color: ORANGE}]});

// ---------- titles ----------
text(67, 18, '1.', 'b');
text(86, 18, 'Expectativas sobre la tasa', 'b');
text(86, 43, 'de política monetaria', 'b');
text(86, 67, 'de EE.UU.<sup>1</sup>', 'b');

text(381, 17, '2.', 'b');
text(403, 17, 'Expectativas sobre la tasa', 'b');
text(403, 42, 'de política monetaria<sup>2</sup>', 'b');
text(403, 67, '(porcentaje; las líneas', 'b');
text(403, 92, '<span style="letter-spacing:-0.35px">punteadas son del informe</span>', 'b');
text(403, 116, 'WEO de abril de 2016)', 'b');

text(55, 383, '<span style="letter-spacing:-0.3px">3. Principales tasas de interés</span><sup>3</sup>', 'b');
text(172, 408, 'Hipoteca promedio');
text(172, 433, 'a tasa fija a 30');
text(172, 457, 'años en EE.UU.');
text(257, 535, 'EE.UU.');
text(100, 582, 'Alemania');
text(50, 615, 'Japón');

text(380, 383, '4.', 'b');
text(403, 383, 'Total de activos del banco', 'b');
text(403, 408, 'central<sup>4</sup>', 'b');
text(403, 433, '(porcentaje del PIB', 'b');
text(408, 458, 'de 2008)', 'b');

text(10, 748, '5. Mercados de acciones', 'b c');
text(10, 773, 'índice, 2007 = 100;', 'b c');
text(10, 798, '(moneda nacional)', 'b c');

text(380, 747, '6. Coeficiente precio/utilidades', 'b');

// ---------- legends ----------
[BLUE, RED, ORANGE, GREEN].forEach((c, i) => legend(64, 88, [97, 121, 145, 168][i], c, p1Names[i]));
[BLUE, RED, ORANGE].forEach((c, i) => legend(382, 406, [145, 169, 193][i], c, p2Names[i]));
[BLUE, RED, ORANGE].forEach((c, i) => legend(406, 430, [493, 517, 541][i], c, p4Names[i]));
legend(63, 87, 832, ORANGE, p5Names[0]);
legend(63, 87, 857, GREEN, p5Names[1]);
legend(70, 93, 1004, BLUE, p5Names[2]);
legend(70, 93, 1028, RED, p5Names[3]);
[BLUE, RED, ORANGE, GREEN].forEach((c, i) => legend(480, 503, [810, 833, 856, 880][i], c, p6Names[i]));
</script>
</body>
</html>
